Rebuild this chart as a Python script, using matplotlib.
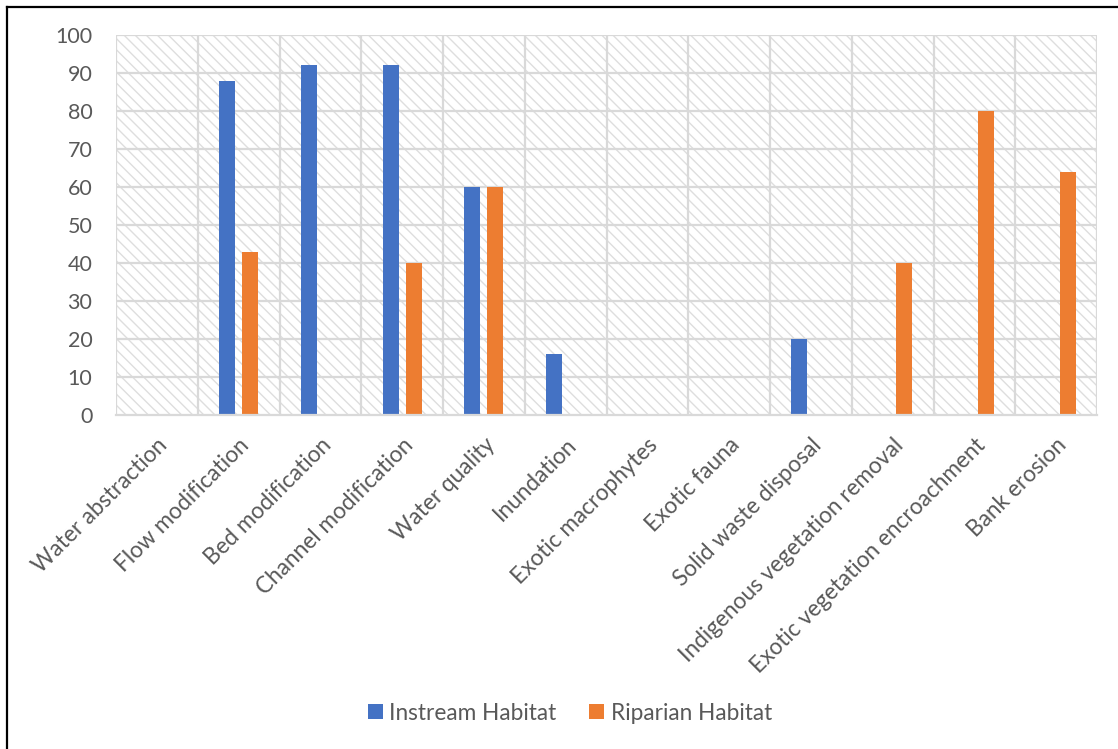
import matplotlib
matplotlib.use("Agg")
import matplotlib.pyplot as plt
from matplotlib.patches import Rectangle, Patch
from matplotlib.lines import Line2D
import numpy as np

categories = ["Water abstraction", "Flow modification", "Bed modification",
              "Channel modification", "Water quality", "Inundation",
              "Exotic macrophytes", "Exotic fauna", "Solid waste disposal",
              "Indigenous vegetation removal", "Exotic vegetation encroachment",
              "Bank erosion"]
instream = [0, 88, 92, 92, 60, 16, 0, 0, 20, 0, 0, 0]
riparian = [0, 43, 0, 40, 60, 0, 0, 0, 0, 40, 80, 64]
series_names = ["Instream Habitat", "Riparian Habitat"]
yticks = [0, 10, 20, 30, 40, 50, 60, 70, 80, 90, 100]

BLUE = "#4472C4"
ORANGE = "#ED7D31"
TXT = "#595959"
GRID = "#D9D9D9"
HATCH = "#DEDEDE"

plt.rcParams['font.family'] = ['Lato', 'DejaVu Sans']
plt.rcParams['hatch.linewidth'] = 1.0
plt.rcParams['hatch.color'] = HATCH

W, H = 1118, 749
fig = plt.figure(figsize=(W / 100, H / 100), dpi=100)
ax = fig.add_axes([116 / W, 1 - 415 / H, 981 / W, 380 / H])

n = len(categories)
x = np.arange(n)
bw = 0.196
off = 0.142

# hatched background
ax.add_patch(Rectangle((0, 0), 1, 1, transform=ax.transAxes, facecolor='white',
                       edgecolor=HATCH, hatch='\\\\\\', linewidth=0, zorder=0))

ax.bar(x - off, instream, width=bw, color=BLUE, zorder=3, label=series_names[0])
ax.bar(x + off, riparian, width=bw, color=ORANGE, zorder=3, label=series_names[1])

ax.set_xlim(-0.5, n - 0.5)
ax.set_ylim(0, 100)
ax.set_yticks(yticks)
ax.set_yticklabels([str(v) for v in yticks])

# grid lines: horizontal at y ticks, vertical at category boundaries
for yv in yticks[1:]:
    ax.axhline(yv, color=GRID, lw=1.6, zorder=1)
for b in np.arange(-0.5, n, 1.0):
    ax.axvline(b, color=GRID, lw=1.6, zorder=1)

for s in ['top', 'right', 'left']:
    ax.spines[s].set_visible(False)
ax.spines['bottom'].set_color(GRID)
ax.spines['bottom'].set_linewidth(1.6)
ax.spines['bottom'].set_zorder(4)

ax.set_xticks(x)
ax.set_xticklabels(categories, rotation=45, ha='right', rotation_mode='anchor')
ax.tick_params(axis='both', length=0, labelcolor=TXT)
ax.tick_params(axis='y', pad=17, labelsize=15.5)
ax.tick_params(axis='x', pad=14, labelsize=16.3)

handles = [Patch(facecolor=BLUE, edgecolor='none'), Patch(facecolor=ORANGE, edgecolor='none')]
leg = fig.legend(handles, series_names, loc='center', bbox_to_anchor=(570 / W, 1 - 713 / H),
                 ncol=2, frameon=False, fontsize=16.3, handlelength=0.65, handleheight=0.65,
                 handletextpad=0.3, columnspacing=1.45)
for t in leg.get_texts():
    t.set_color(TXT)

# outer border (top and left visible)
fig.add_artist(Line2D([7 / W, 1.0], [1 - 7 / H, 1 - 7 / H], transform=fig.transFigure,
                      color='black', lw=1.6))
fig.add_artist(Line2D([7 / W, 7 / W], [1 - 7 / H, 0.0], transform=fig.transFigure,
                      color='black', lw=1.6))

fig.savefig("out.png", dpi=100, facecolor='white')
